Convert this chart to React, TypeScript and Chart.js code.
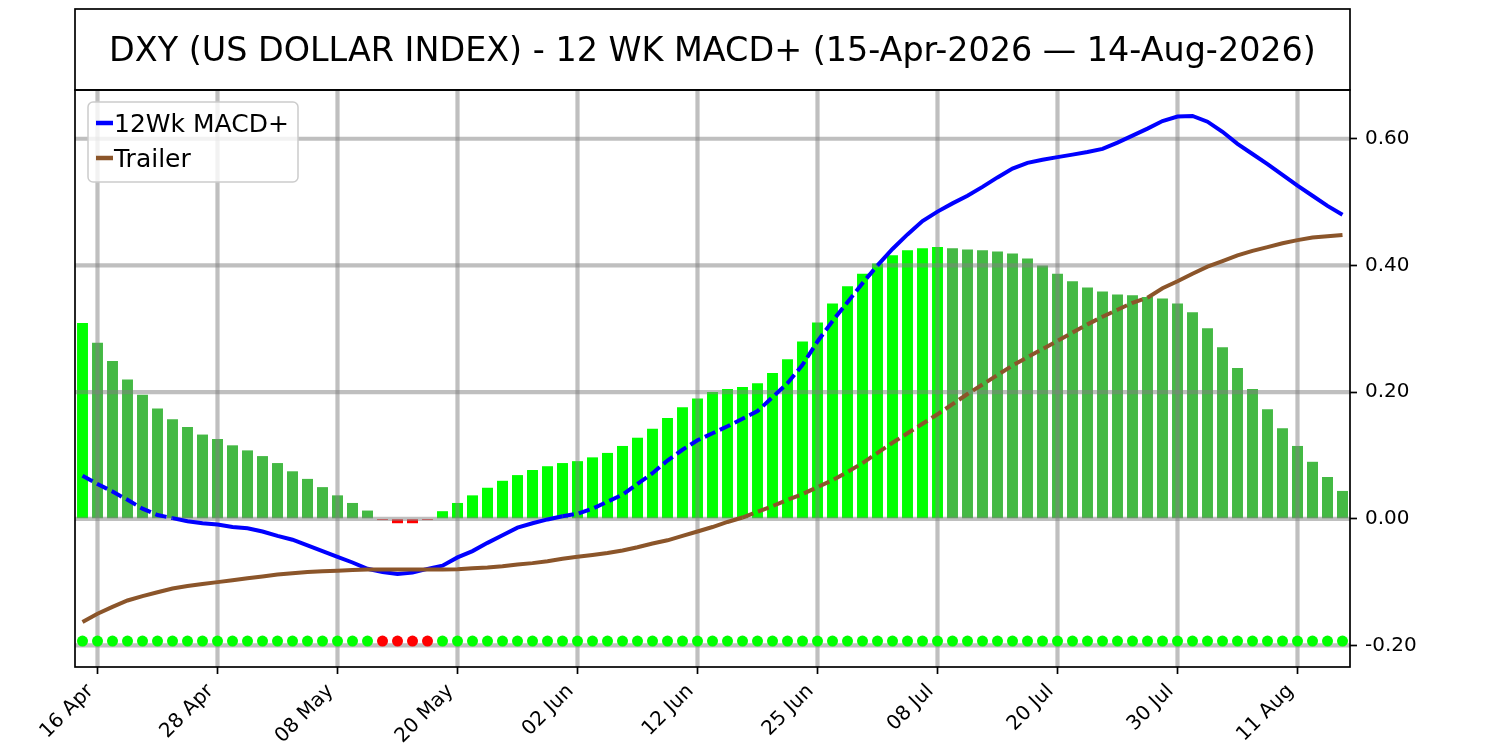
import { useEffect, useRef } from "react";
import Chart from "chart.js/auto";

// trading days, 15 Apr 2026 .. 14 Aug 2026 (US holidays skipped)
const dates = [
  "15 Apr", "16 Apr", "17 Apr", "20 Apr", "21 Apr", "22 Apr", "23 Apr", "24 Apr", "27 Apr", "28 Apr", "29 Apr", "30 Apr",
  "01 May", "04 May", "05 May", "06 May", "07 May", "08 May", "11 May", "12 May", "13 May", "14 May", "15 May", "18 May",
  "19 May", "20 May", "21 May", "22 May", "26 May", "27 May", "28 May", "29 May",
  "01 Jun", "02 Jun", "03 Jun", "04 Jun", "05 Jun", "08 Jun", "09 Jun", "10 Jun", "11 Jun", "12 Jun", "15 Jun", "16 Jun",
  "17 Jun", "18 Jun", "22 Jun", "23 Jun", "24 Jun", "25 Jun", "26 Jun", "29 Jun", "30 Jun",
  "01 Jul", "02 Jul", "06 Jul", "07 Jul", "08 Jul", "09 Jul", "10 Jul", "13 Jul", "14 Jul", "15 Jul", "16 Jul", "17 Jul",
  "20 Jul", "21 Jul", "22 Jul", "23 Jul", "24 Jul", "27 Jul", "28 Jul", "29 Jul", "30 Jul", "31 Jul",
  "03 Aug", "04 Aug", "05 Aug", "06 Aug", "07 Aug", "10 Aug", "11 Aug", "12 Aug", "13 Aug", "14 Aug",
];

const tickDates = ["16 Apr", "28 Apr", "08 May", "20 May", "02 Jun", "12 Jun", "25 Jun", "08 Jul", "20 Jul", "30 Jul", "11 Aug"];
const yTicks = [-0.2, 0, 0.2, 0.4, 0.6];

const histogram = [
  0.309, 0.278, 0.249, 0.22, 0.196, 0.174, 0.157, 0.145, 0.133, 0.126, 0.116, 0.108, 0.099, 0.088, 0.075, 0.063,
  0.05, 0.037, 0.025, 0.013, -0.002, -0.007, -0.007, -0.002, 0.012, 0.025, 0.037, 0.049, 0.06, 0.069, 0.077, 0.083,
  0.088, 0.091, 0.097, 0.104, 0.115, 0.128, 0.142, 0.159, 0.176, 0.19, 0.2, 0.205, 0.208, 0.214, 0.23, 0.252,
  0.28, 0.31, 0.34, 0.367, 0.387, 0.403, 0.416, 0.424, 0.427, 0.429, 0.427, 0.425, 0.424, 0.422, 0.419, 0.411,
  0.4, 0.387, 0.375, 0.365, 0.359, 0.354, 0.353, 0.35, 0.348, 0.34, 0.326, 0.301, 0.271, 0.238, 0.205, 0.173,
  0.143, 0.115, 0.09, 0.066, 0.044,
];

const macd = [
  0.068, 0.055, 0.043, 0.03, 0.016, 0.006, 0.001, -0.004, -0.007, -0.009, -0.013, -0.015, -0.02, -0.027, -0.033, -0.042,
  -0.051, -0.06, -0.069, -0.079, -0.084, -0.087, -0.085, -0.079, -0.074, -0.061, -0.051, -0.038, -0.026, -0.014, -0.007, -0.001,
  0.004, 0.008, 0.016, 0.027, 0.038, 0.055, 0.072, 0.092, 0.109, 0.124, 0.135, 0.146, 0.158, 0.17, 0.192, 0.214,
  0.243, 0.28, 0.312, 0.342, 0.372, 0.4, 0.426, 0.449, 0.47, 0.485, 0.498, 0.51, 0.524, 0.539, 0.553, 0.562,
  0.567, 0.571, 0.575, 0.579, 0.584, 0.594, 0.605, 0.616, 0.628, 0.635, 0.636, 0.627, 0.611, 0.592, 0.576, 0.56,
  0.543, 0.526, 0.51, 0.494, 0.48,
];

const trailer = [
  -0.163, -0.15, -0.139, -0.129, -0.122, -0.116, -0.11, -0.106, -0.103, -0.1, -0.097, -0.094, -0.091, -0.088, -0.086, -0.084,
  -0.083, -0.082, -0.081, -0.08, -0.08, -0.08, -0.08, -0.08, -0.08, -0.0795, -0.078, -0.077, -0.075, -0.072, -0.07, -0.067,
  -0.063, -0.06, -0.057, -0.054, -0.05, -0.045, -0.039, -0.034, -0.027, -0.02, -0.013, -0.005, 0.002, 0.011, 0.02, 0.03,
  0.039, 0.05, 0.061, 0.074, 0.088, 0.104, 0.12, 0.135, 0.15, 0.165, 0.181, 0.197, 0.212, 0.227, 0.242, 0.255,
  0.268, 0.281, 0.294, 0.307, 0.319, 0.33, 0.341, 0.349, 0.364, 0.375, 0.387, 0.398, 0.407, 0.416, 0.423, 0.429,
  0.435, 0.44, 0.444, 0.446, 0.448,
];

const signalLevel = -0.193;
const yMin = -0.234;
const yMax = 0.677;

const TITLE = "DXY (US DOLLAR INDEX) - 12 WK MACD+ (15-Apr-2026 \u2014 14-Aug-2026)";
const FONT = "'DejaVu Sans', sans-serif";
const LIME = "#00ff00";
const DARK_GREEN = "#44b944";
const RED = "#ff0000";
const BLUE = "#0000ff";
const BROWN = "#8b552a";
const GRID = "rgba(128, 128, 128, 0.5)";
const SPINE = 1.7;
const LINE_W = 4;
const TICK_LEN = 7;

// line runs "inside" a bar: above zero and below the bar top
const inside = (vals: number[], i: number) => vals[i] > 0 && vals[i] < histogram[i];
const dashFor = (vals: number[]) => (c: any) =>
  inside(vals, c.p0DataIndex) && inside(vals, c.p1DataIndex) ? [11.5, 5] : undefined;

export default function App() {
  const canvasRef = useRef<HTMLCanvasElement | null>(null);
  const chartRef = useRef<Chart | null>(null);

  useEffect(() => {
    if (!canvasRef.current) return;
    if (chartRef.current) chartRef.current.destroy();
    const ctx = canvasRef.current.getContext("2d");
    if (!ctx) return;

    Chart.defaults.font.family = FONT;

    const tickIdx = tickDates.map((d) => dates.indexOf(d));
    const barColors = histogram.map((v, i) =>
      v < 0 ? RED : i === 0 || v > histogram[i - 1] ? LIME : DARK_GREEN
    );
    const dotColors = histogram.map((v) => (v < 0 ? RED : LIME));

    // grid between bars and lines, plus frame, title, rotated date labels and legend
    const framePlugin = {
      id: "frame",
      afterDatasetDraw(chart: any, args: any) {
        if (args.index !== 0) return;
        const { ctx: g, chartArea: a, scales } = chart;
        g.save();
        g.beginPath();
        g.rect(a.left, a.top, a.right - a.left, a.bottom - a.top);
        g.clip();
        g.strokeStyle = GRID;
        g.lineWidth = 4.2;
        tickIdx.forEach((i) => {
          const px = scales.x.getPixelForValue(i);
          g.beginPath();
          g.moveTo(px, a.top);
          g.lineTo(px, a.bottom);
          g.stroke();
        });
        yTicks.forEach((v) => {
          const py = scales.y.getPixelForValue(v);
          g.beginPath();
          g.moveTo(a.left, py);
          g.lineTo(a.right, py);
          g.stroke();
        });
        g.restore();
      },
      afterDraw(chart: any) {
        const { ctx: g, chartArea: a, scales } = chart;
        g.save();
        g.strokeStyle = "#000";
        g.lineWidth = SPINE;
        g.strokeRect(a.left, a.top, a.right - a.left, a.bottom - a.top);
        g.strokeRect(a.left, 9, a.right - a.left, a.top - 9);

        g.fillStyle = "#000";
        g.font = `33.4px ${FONT}`;
        g.textAlign = "center";
        g.textBaseline = "alphabetic";
        g.fillText(TITLE, (a.left + a.right) / 2, 61);

        // date labels at 45 degrees, rotated box right-aligned to the tick
        g.font = `20px ${FONT}`;
        g.textAlign = "left";
        const asc = 15.2;
        const desc = 4.7;
        const k = Math.SQRT1_2;
        tickIdx.forEach((i) => {
          const tx = scales.x.getPixelForValue(i);
          const w = g.measureText(dates[i]).width;
          const ox = tx - k * (w + desc);
          const oy = a.bottom + TICK_LEN + 7 + k * (w + asc);
          g.save();
          g.translate(ox, oy);
          g.rotate(-Math.PI / 4);
          g.fillText(dates[i], 0, 0);
          g.restore();
        });

        // legend
        const lx = a.left + 13;
        const ly = a.top + 12;
        g.beginPath();
        g.roundRect(lx, ly, 210, 80, 5);
        g.fillStyle = "rgba(255, 255, 255, 0.8)";
        g.fill();
        g.strokeStyle = "#cccccc";
        g.lineWidth = 1.5;
        g.stroke();
        const items = [chart.data.datasets[1], chart.data.datasets[2]];
        items.forEach((ds: any, n: number) => {
          const y = ly + 21 + n * 35;
          g.strokeStyle = ds.borderColor;
          g.lineWidth = 4.5;
          g.beginPath();
          g.moveTo(lx + 8, y);
          g.lineTo(lx + 25, y);
          g.stroke();
          g.fillStyle = "#000";
          g.font = `25px ${FONT}`;
          g.textAlign = "left";
          g.fillText(ds.label, lx + 26, y + 9);
        });
        g.restore();
      },
    };

    chartRef.current = new Chart(ctx, {
      type: "bar",
      data: {
        labels: dates,
        datasets: [
          {
            type: "bar",
            label: "Histogram",
            data: histogram,
            backgroundColor: barColors,
            borderWidth: 0,
            barPercentage: 0.73,
            categoryPercentage: 1,
            order: 4,
          },
          {
            type: "line",
            label: "12Wk MACD+",
            data: macd,
            borderColor: BLUE,
            borderWidth: LINE_W,
            pointRadius: 0,
            tension: 0,
            order: 2,
            segment: { borderDash: dashFor(macd) },
          },
          {
            type: "line",
            label: "Trailer",
            data: trailer,
            borderColor: BROWN,
            borderWidth: LINE_W,
            pointRadius: 0,
            tension: 0,
            order: 1,
            segment: { borderDash: dashFor(trailer) },
          },
          {
            type: "line",
            label: "Signal",
            data: dates.map(() => signalLevel),
            showLine: false,
            pointRadius: 5.5,
            pointBackgroundColor: dotColors,
            pointBorderWidth: 0,
            order: 0,
          },
        ],
      } as any,
      options: {
        responsive: true,
        maintainAspectRatio: false,
        animation: false,
        events: [],
        layout: { padding: { left: 75, top: 90, right: 0, bottom: 0 } },
        plugins: {
          legend: { display: false },
          tooltip: { enabled: false },
        },
        scales: {
          x: {
            type: "category",
            offset: true,
            border: { display: false },
            grid: {
              display: true,
              drawOnChartArea: false,
              drawTicks: true,
              tickLength: TICK_LEN,
              tickWidth: SPINE,
              tickColor: "#000",
              offset: false,
            },
            ticks: { display: false, autoSkip: false },
            afterBuildTicks: (s: any) => {
              s.ticks = tickIdx.map((i) => ({ value: i }));
            },
            afterFit: (s: any) => {
              s.height = 83;
            },
          },
          y: {
            type: "linear",
            position: "right",
            min: yMin,
            max: yMax,
            border: { display: false },
            grid: {
              display: true,
              drawOnChartArea: false,
              drawTicks: true,
              tickLength: TICK_LEN,
              tickWidth: SPINE,
              tickColor: "#000",
            },
            ticks: {
              color: "#000",
              font: { family: FONT, size: 20 },
              padding: 8,
              callback: (v: any) => Number(v).toFixed(2),
            },
            afterBuildTicks: (s: any) => {
              s.ticks = yTicks.map((v) => ({ value: v }));
            },
            afterFit: (s: any) => {
              s.width = 150;
            },
          },
        },
      } as any,
      plugins: [framePlugin],
    });

    return () => {
      if (chartRef.current) {
        chartRef.current.destroy();
        chartRef.current = null;
      }
    };
  }, []);

  return (
    <div style={{ position: "absolute", left: 0, top: 0, width: 1500, height: 750, background: "#fff" }}>
      <canvas ref={canvasRef}></canvas>
    </div>
  );
}
